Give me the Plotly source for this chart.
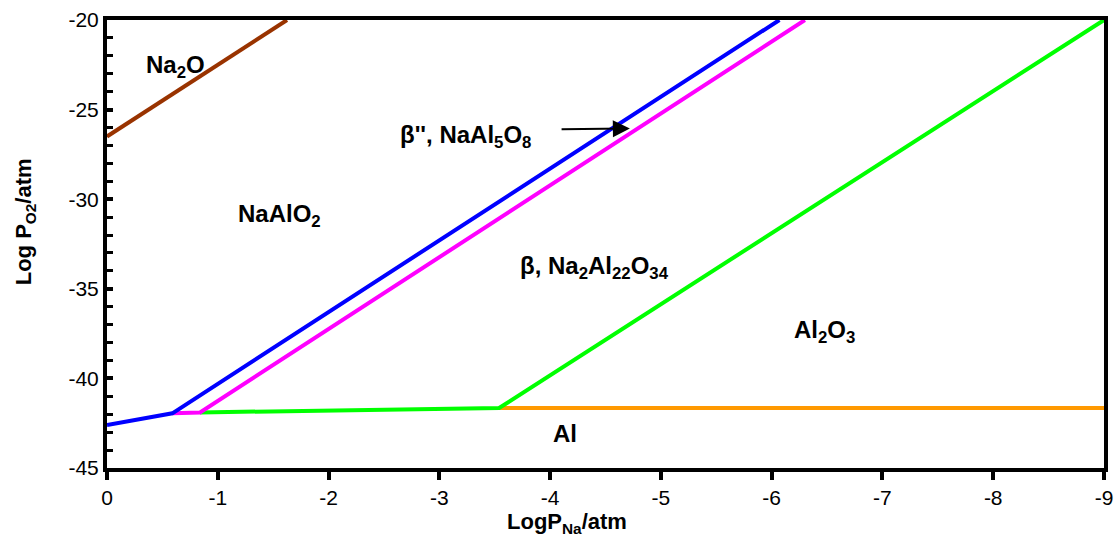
import plotly.graph_objects as go

# Phase boundary lines (LogP_Na, LogP_O2)
na2o_x = [0.0, -1.625]
na2o_y = [-26.5, -20.0]
blue_x = [0.0, -0.59, -6.07]
blue_y = [-42.6, -41.95, -20.0]
magenta_x = [-0.59, -0.84, -6.30]
magenta_y = [-41.95, -41.9, -20.0]
green_x = [-0.84, -3.54, -9.0]
green_y = [-41.9, -41.65, -20.0]
orange_x = [-3.54, -9.0]
orange_y = [-41.65, -41.65]

x_ticks = [0, -1, -2, -3, -4, -5, -6, -7, -8, -9]
y_ticks = [-45, -40, -35, -30, -25, -20]

fig = go.Figure()
for xs, ys, col in [
    (na2o_x, na2o_y, "#993300"),
    (orange_x, orange_y, "#FF9900"),
    (green_x, green_y, "#00FF00"),
    (magenta_x, magenta_y, "#FF00FF"),
    (blue_x, blue_y, "#0000FF"),
]:
    fig.add_trace(go.Scatter(x=xs, y=ys, mode="lines",
                             line=dict(color=col, width=4), showlegend=False,
                             hoverinfo="skip"))

FAM = "Liberation Sans, Arial"
lab_font = dict(family=FAM, size=24, color="black")
labels = [
    (-0.62, -22.6, "<b>Na<sub>2</sub>O</b>"),
    (-1.56, -30.9, "<b>NaAlO<sub>2</sub></b>"),
    (-3.24, -26.5, "<b>β'', NaAl<sub>5</sub>O<sub>8</sub></b>"),
    (-4.40, -33.8, "<b>β, Na<sub>2</sub>Al<sub>22</sub>O<sub>34</sub></b>"),
    (-6.48, -37.4, "<b>Al<sub>2</sub>O<sub>3</sub></b>"),
    (-4.13, -43.1, "<b>Al</b>"),
]
for x, y, t in labels:
    fig.add_annotation(x=x, y=y, text=t, showarrow=False, font=lab_font)

fig.add_annotation(x=-4.72, y=-26.05, ax=-4.09, ay=-26.1, axref="x", ayref="y",
                   text="", showarrow=True, arrowhead=2, arrowsize=1.7,
                   arrowwidth=2, arrowcolor="black")

title_font = dict(family=FAM, size=22, color="black")
fig.add_annotation(xref="paper", yref="paper", x=0.461, y=-0.122,
                   text="<b>LogP<sub>Na</sub>/atm</b>", showarrow=False,
                   font=title_font, xanchor="center", yanchor="middle")
fig.add_annotation(xref="paper", yref="paper", x=-0.082, y=0.549,
                   text="<b>Log P<sub>O2</sub>/atm</b>", showarrow=False,
                   textangle=-90, font=title_font, xanchor="center",
                   yanchor="middle")

tick_font = dict(family=FAM, size=21, color="black")
fig.update_xaxes(range=[0, -9], tickvals=x_ticks,
                 ticktext=[str(v) for v in x_ticks], automargin=False,
                 showline=True, linecolor="black", linewidth=4, mirror=True,
                 ticks="outside", ticklen=8, tickwidth=4, tickcolor="black",
                 showgrid=False, zeroline=False, tickfont=tick_font)
fig.update_yaxes(range=[-45, -20], tickvals=y_ticks,
                 ticktext=[str(v) for v in y_ticks], automargin=False,
                 showline=True, linecolor="black", linewidth=4, mirror=True,
                 ticks="inside", ticklen=6, tickwidth=4, tickcolor="black",
                 minor=dict(dtick=1, ticks="inside", ticklen=6, tickwidth=3,
                            tickcolor="black", showgrid=False),
                 showgrid=False, zeroline=False, tickfont=tick_font)
fig.update_layout(width=1115, height=544, plot_bgcolor="white",
                  paper_bgcolor="white",
                  margin=dict(l=107, r=11, t=20, b=76))
fig.write_html("out.html")
